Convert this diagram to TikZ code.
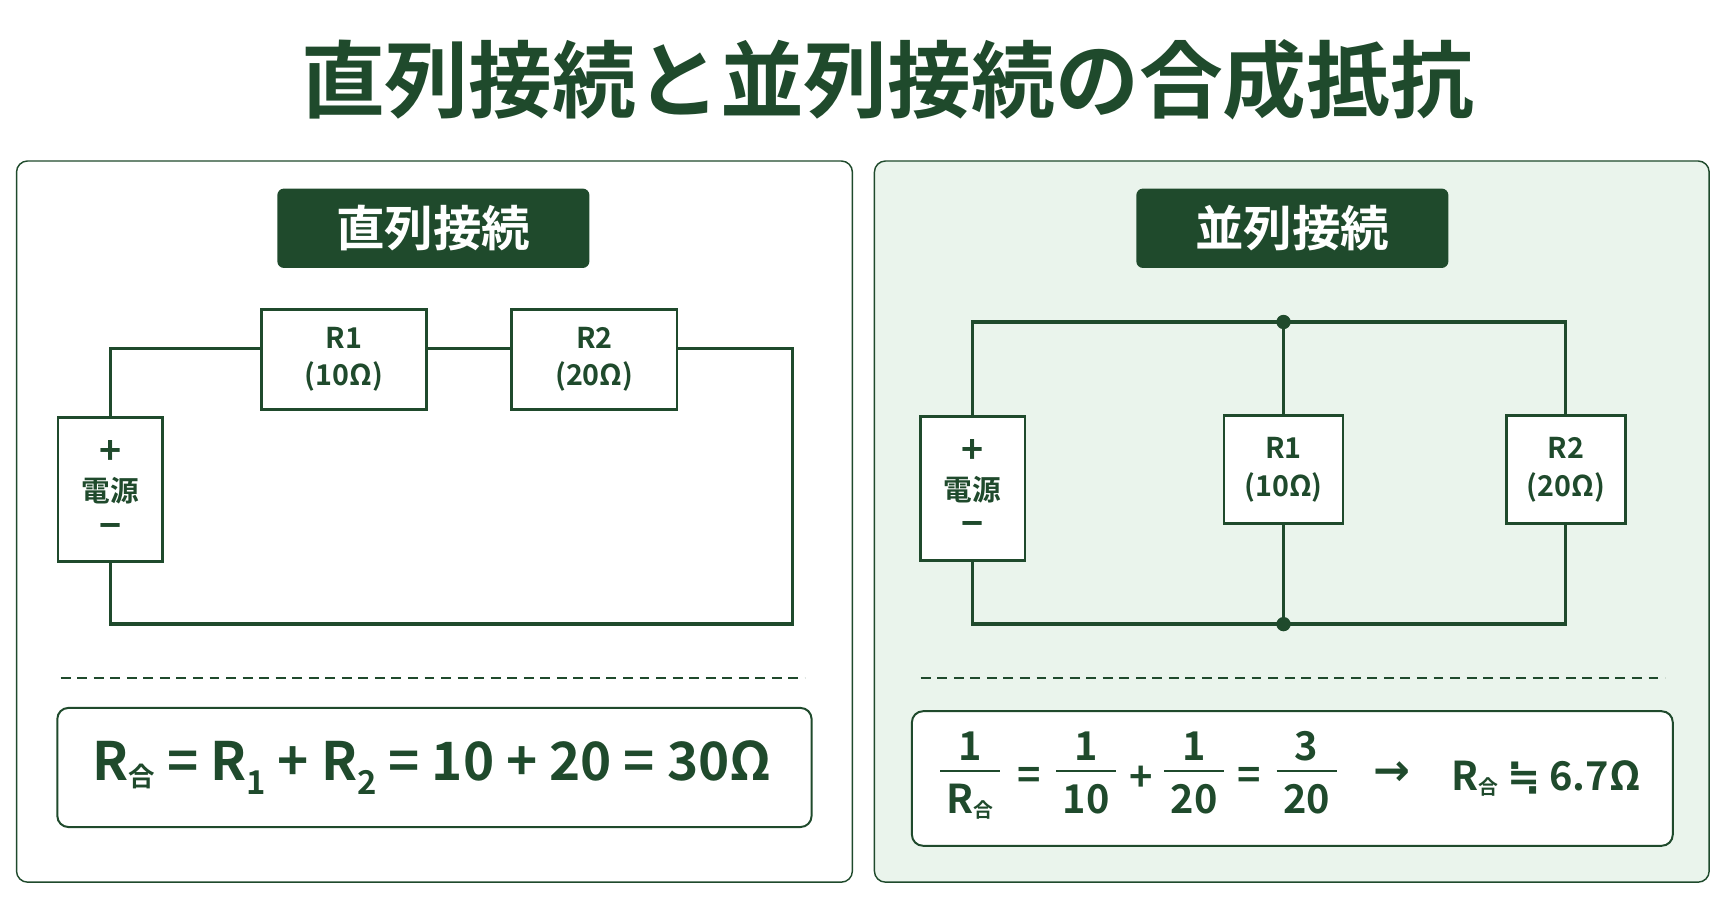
\documentclass[tikz,border=0pt]{standalone}
\usepackage{fontspec}
\setmainfont{Noto Sans CJK JP}[BoldFont={* Bold}]
\newfontfamily\symfont{DejaVu Sans}[BoldFont={* Bold}]
\usetikzlibrary{positioning}
\definecolor{dkgreen}{HTML}{1F4A2C}
\definecolor{ltgreen}{HTML}{EAF4EC}
\newcommand{\Rg}{R\raisebox{-0.1em}{\scalebox{0.5}{合}}}
\newcommand{\sub}[1]{\raisebox{-0.25em}{\scalebox{0.62}{#1}}}
\newcommand{\fr}[2]{\setlength{\arrayrulewidth}{2pt}\begin{tabular}{@{\,}c@{\,}}#1\\[-2pt]\hline\rule{0pt}{1.05em}#2\end{tabular}}
\tikzset{
  panel/.style={draw=dkgreen,line width=1.3pt,rounded corners=10pt},
  tag/.style={fill=dkgreen,rounded corners=6pt,minimum width=283pt,minimum height=72pt,text=white,font=\bfseries\fontsize{44}{44}\selectfont},
  part/.style={draw=dkgreen,fill=white,line width=2.5pt,align=center,text=dkgreen,font=\bfseries\fontsize{26}{34}\selectfont},
  wire/.style={draw=dkgreen,line width=3pt},
  sep/.style={draw=dkgreen,line width=1.4pt,dash pattern=on 9pt off 6pt},
  formula/.style={draw=dkgreen,fill=white,line width=1.8pt,rounded corners=10pt},
  eq/.style={text=dkgreen,font=\bfseries\fontsize{36}{36}\selectfont,inner sep=1pt},
  dot/.style={circle,fill=dkgreen,inner sep=0pt,minimum size=13pt}
}
\begin{document}
\begin{tikzpicture}[x=1pt,y=-1pt]
\useasboundingbox (0,0) rectangle (1568,825);
\fill[white] (0,0) rectangle (1568,825);
\node[text=dkgreen,font=\bfseries\fontsize{76}{76}\selectfont] (title) at (805,72) {直列接続と並列接続の合成抵抗};
% panels
\draw[panel,fill=white] (15,146) rectangle (773,800);
\draw[panel,fill=ltgreen] (793,146) rectangle (1550,800);
\node[tag] (stag) at (393,207) {直列接続};
\node[tag] (ptag) at (1172,207) {並列接続};
% series circuit
\node[part,minimum width=95pt,minimum height=131pt] (sbat) at (100,444) {\fontsize{34}{38}\selectfont +\\電源\\\fontsize{34}{38}\selectfont −};
\node[part,minimum width=150pt,minimum height=91pt] (sr1) at (312,326) {R1\\(10Ω)};
\node[part,minimum width=150pt,minimum height=91pt] (sr2) at (539,326) {R2\\(20Ω)};
\coordinate (stl) at (100,316);
\coordinate (str) at (719,316);
\coordinate (sbr) at (719,566);
\coordinate (sbl) at (100,566);
\draw[wire] (sbat.north) -- (stl) -- (stl -| sr1.west);
\draw[wire] (sr1.east |- stl) -- (stl -| sr2.west);
\draw[wire] (sr2.east |- stl) -- (str) -- (sbr) -- (sbl) -- (sbat.south);
\draw[sep] (55,615) -- (730,615);
\draw[formula] (52,642) rectangle (736,750);
\node[eq,font=\bfseries\fontsize{48}{48}\selectfont] (sform) at (392,696) {\Rg{} = R\sub{1} + R\sub{2} = 10 + 20 = 30Ω};
% parallel circuit
\node[part,minimum width=95pt,minimum height=131pt] (pbat) at (882,443) {\fontsize{34}{38}\selectfont +\\電源\\\fontsize{34}{38}\selectfont −};
\node[part,minimum width=108pt,minimum height=98pt] (pr1) at (1164,426) {R1\\(10Ω)};
\node[part,minimum width=108pt,minimum height=98pt] (pr2) at (1420,426) {R2\\(20Ω)};
\node[dot] (jt) at (1164,292) {};
\node[dot] (jb) at (1164,566) {};
\coordinate (ptl) at (882,292);
\coordinate (ptr) at (1420,292);
\coordinate (pbl) at (882,566);
\coordinate (pbr) at (1420,566);
\draw[wire] (pbat.north) -- (ptl) -- (ptr) -- (pr2.north);
\draw[wire] (pbat.south) -- (pbl) -- (pbr) -- (pr2.south);
\draw[wire] (jt) -- (pr1.north);
\draw[wire] (pr1.south) -- (jb);
\draw[sep] (835,615) -- (1510,615);
\draw[formula] (827,645) rectangle (1517,767);
\node[eq] (f1) at (880,706) {\fr{1}{\Rg}};
\node[eq] (e1) at (933,706) {=};
\node[eq] (f2) at (985,706) {\fr{1}{10}};
\node[eq] (p1) at (1035,706) {+};
\node[eq] (f3) at (1083,706) {\fr{1}{20}};
\node[eq] (e2) at (1133,706) {=};
\node[eq] (f4) at (1185,706) {\fr{3}{20}};
\node[eq,font=\symfont\bfseries\fontsize{40}{40}\selectfont] (ar) at (1262,702) {→};
\node[eq] (res) at (1402,706) {\Rg{} {\symfont ≒} 6.7Ω};
\end{tikzpicture}
\end{document}
